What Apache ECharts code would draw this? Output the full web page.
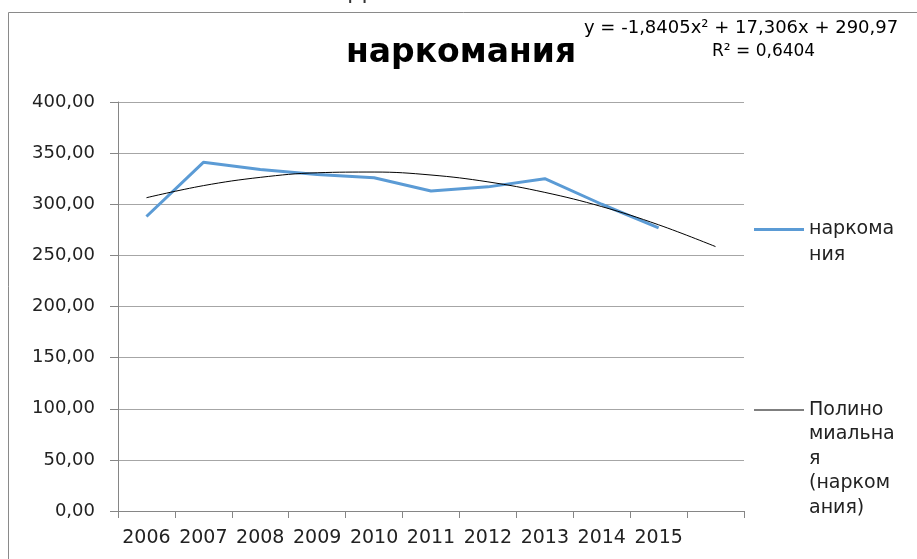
<!DOCTYPE html>
<html>
<head>
<meta charset="utf-8">
<script src="https://cdn.jsdelivr.net/npm/echarts@6/dist/echarts.min.js"></script>
<style>html,body{margin:0;padding:0;background:#fff;}#c{width:917px;height:559px;}</style>
</head>
<body>
<div id="c"></div>
<script>
var categories = ['2006','2007','2008','2009','2010','2011','2012','2013','2014','2015',''];
var seriesName = 'наркомания';
var trendName = 'Полиномиальная (наркомания)';
var values = [288, 341, 334, 329, 326, 313, 317, 325, 300, 277];
var trendValues = [306.4, 318.2, 326.3, 330.8, 331.5, 328.6, 321.9, 311.6, 297.7, 279.9, 258.6];
var equationText = 'y = -1,8405x² + 17,306x + 290,97';
var r2Text = 'R² = 0,6404';
var yMin = 0, yMax = 400, yStep = 50;

var legendLines = {};
legendLines[seriesName] = ['наркома', 'ния'];
legendLines[trendName] = ['Полино', 'миальна', 'я', '(нарком', 'ания)'];

// put the first text line level with the legend line: pad with empty lines above
function legendText(n) {
  var lines = legendLines[n];
  var pad = [];
  for (var i = 1; i < lines.length; i++) pad.push('');
  return pad.concat(lines).join('\n');
}

var chart = echarts.init(document.getElementById('c'));
var font = 'DejaVu Sans';
chart.setOption({
  animation: false,
  backgroundColor: '#fff',
  title: [
    { text: seriesName, left: 346, top: 37, padding: 0,
      textStyle: { fontFamily: font, fontWeight: 'bold', fontSize: 33, color: '#000' } },
    { text: equationText, left: 584, top: 19, padding: 0,
      textStyle: { fontFamily: font, fontWeight: 'normal', fontSize: 18, color: '#000' } },
    { text: r2Text, left: 712, top: 43, padding: 0,
      textStyle: { fontFamily: font, fontWeight: 'normal', fontSize: 17, color: '#000' } }
  ],
  graphic: [
    { type: 'rect', silent: true, shape: { x: 8.5, y: 12.5, width: 1000, height: 1000 },
      style: { fill: 'none', stroke: '#8a8a8a', lineWidth: 1 } },
    { type: 'text', silent: true, left: 348, top: -19,
      style: { text: 'Д', font: '24px DejaVu Sans', fill: '#333' } }
  ],
  grid: { left: 118, right: 173, top: 102, bottom: 48, containLabel: false },
  legend: [
    { data: [seriesName], left: 754, top: 229.5 - 39, padding: 0, orient: 'vertical',
      icon: 'rect', itemWidth: 50, itemHeight: 3, itemGap: 5,
      formatter: legendText,
      textStyle: { fontFamily: font, fontSize: 19, color: '#222', lineHeight: 26 } },
    { data: [trendName], left: 754, top: 410 - 110.25, padding: 0, orient: 'vertical',
      icon: 'rect', itemWidth: 50, itemHeight: 1, itemGap: 5,
      formatter: legendText,
      textStyle: { fontFamily: font, fontSize: 19, color: '#222', lineHeight: 24.5 } }
  ],
  xAxis: {
    type: 'category',
    data: categories,
    boundaryGap: true,
    axisLine: { show: true, lineStyle: { color: '#868686', width: 1 } },
    axisTick: { show: true, length: 7, lineStyle: { color: '#868686' } },
    axisLabel: { fontFamily: font, fontSize: 19, color: '#222', margin: 18, interval: 0 },
    splitLine: { show: false }
  },
  yAxis: {
    type: 'value',
    min: yMin, max: yMax, interval: yStep,
    axisLine: { show: true, lineStyle: { color: '#868686', width: 1 } },
    axisTick: { show: true, length: 8, lineStyle: { color: '#868686' } },
    axisLabel: { fontFamily: font, fontSize: 18, color: '#222', margin: 23,
      formatter: function (v) { return v.toFixed(2).replace('.', ','); } },
    splitLine: { show: true, lineStyle: { color: '#a6a6a6', width: 1 } }
  },
  series: [
    { name: seriesName, type: 'line', data: values, showSymbol: false, symbol: 'none',
      lineStyle: { color: '#5b9bd5', width: 3 }, itemStyle: { color: '#5b9bd5' }, z: 2 },
    { name: trendName, type: 'line', data: trendValues, showSymbol: false, symbol: 'none', smooth: 0.4,
      lineStyle: { color: '#000', width: 1 }, itemStyle: { color: '#000' }, z: 3 }
  ]
});
</script>
</body>
</html>
